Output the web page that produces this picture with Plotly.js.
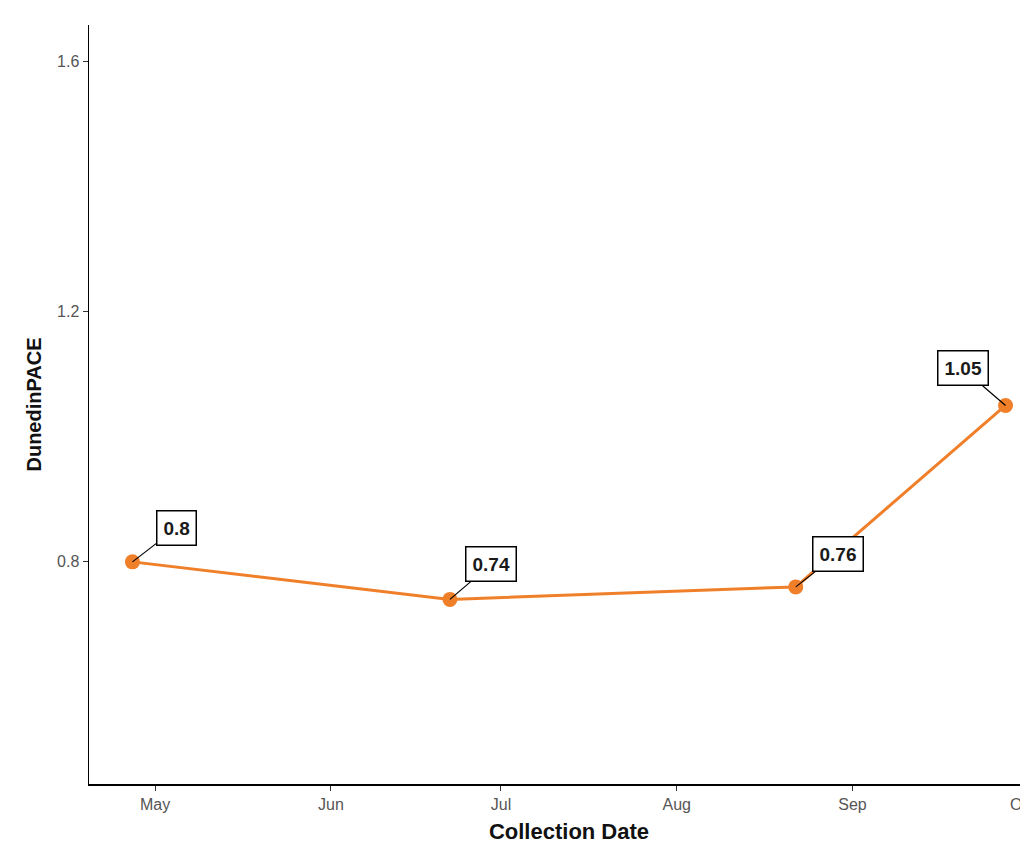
<!DOCTYPE html>
<html>
<head>
<meta charset="utf-8">
<script src="https://cdn.plot.ly/plotly-3.0.1.min.js"></script>
<style>
html,body{margin:0;padding:0;overflow:hidden;background:#fff;}
#chart{width:1060px;height:844px;}
</style>
</head>
<body>
<div id="chart"></div>
<script>
const dates = ["2023-04-27", "2023-06-22", "2023-08-22", "2023-09-28"];
const pace = [0.80, 0.74, 0.76, 1.05];
const labels = ["0.8", "0.74", "0.76", "1.05"];
const labelOffsetX = [44, 41, 42, -43];
const labelOffsetY = [-34, -35, -33, -37];

const lineColor = "#F07F2A";

const trace = {
  x: dates,
  y: pace,
  type: "scatter",
  mode: "lines+markers",
  line: {color: lineColor, width: 3},
  marker: {color: lineColor, size: 15},
  hoverinfo: "x+y"
};

const annotations = dates.map((d, i) => ({
  x: d, y: pace[i], xref: "x", yref: "y",
  text: "<b>" + labels[i] + "</b>",
  showarrow: true, arrowhead: 0, arrowwidth: 1.2, arrowcolor: "#000",
  ax: labelOffsetX[i], ay: labelOffsetY[i],
  font: {family: "Liberation Sans, Arial, sans-serif", size: 19, color: "#1a1a1a"},
  bgcolor: "#fff", bordercolor: "#000", borderwidth: 1.5, borderpad: 6,
  standoff: 0, startstandoff: 0
}));

const layout = {
  width: 1060, height: 844,
  margin: {l: 89, r: 11, t: 25, b: 60},
  paper_bgcolor: "#fff", plot_bgcolor: "#fff",
  showlegend: false,
  font: {family: "Liberation Sans, Arial, sans-serif"},
  xaxis: {
    type: "date",
    range: ["2023-04-19 08:00", "2023-10-05 16:00"],
    tick0: "2023-05-01", dtick: "M1", tickformat: "%b",
    showgrid: false, zeroline: false,
    showline: true, linecolor: "#000", linewidth: 1.5,
    ticks: "outside", ticklen: 5, tickcolor: "#333", tickwidth: 1,
    tickfont: {size: 16, color: "#555"},
    title: {text: "<b>Collection Date</b>", font: {size: 22, color: "#111"}, standoff: 12}
  },
  yaxis: {
    range: [0.445, 1.658],
    tick0: 0.8, dtick: 0.4, tickformat: ".1f",
    showgrid: false, zeroline: false,
    showline: true, linecolor: "#000", linewidth: 1.5,
    ticks: "outside", ticklen: 5, tickcolor: "#333", tickwidth: 1,
    tickfont: {size: 16, color: "#555"},
    title: {text: "<b>DunedinPACE</b>", font: {size: 20, color: "#111"}, standoff: 10}
  },
  annotations: annotations
};

Plotly.newPlot("chart", [trace], layout, {displayModeBar: false, staticPlot: true});
</script>
</body>
</html>
